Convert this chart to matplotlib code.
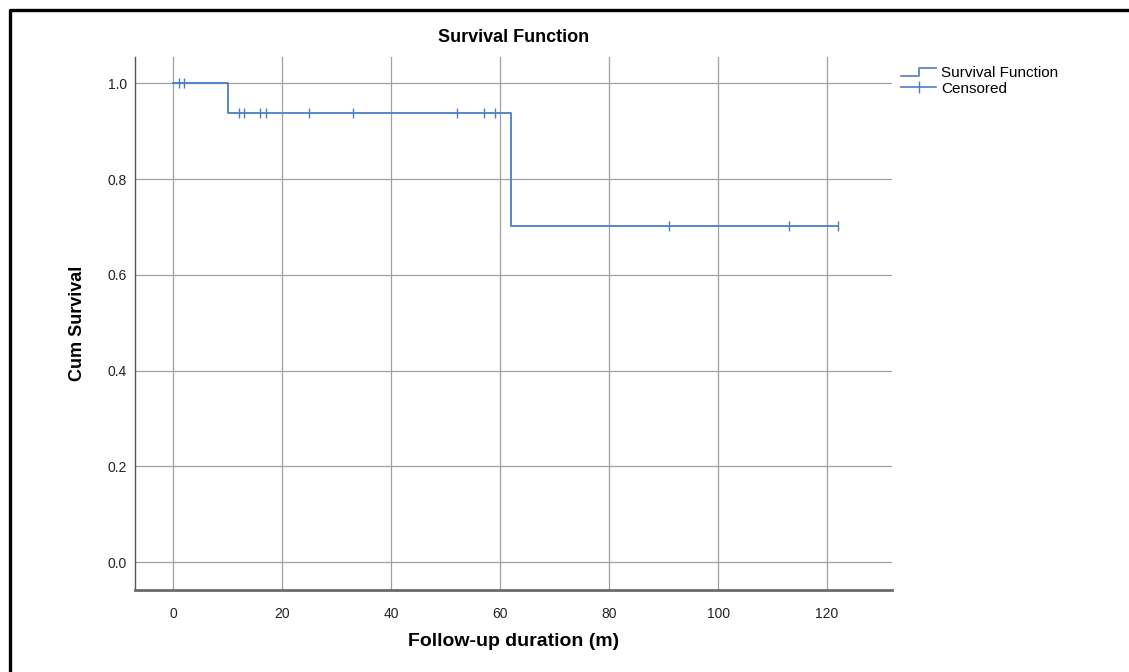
import numpy as np
import matplotlib.pyplot as plt
from matplotlib.legend_handler import HandlerBase
from matplotlib.lines import Line2D

plt.rcParams['font.family'] = ['Liberation Sans', 'DejaVu Sans']

# Kaplan-Meier values
step_times = [0, 10, 62, 122]
step_surv = [1.0, 0.9375, 0.703, 0.703]
censored_times = [1, 2, 12, 13, 16, 17, 25, 33, 52, 57, 59, 91, 113, 122]

x_ticks = [0, 20, 40, 60, 80, 100, 120]
y_ticks = [0.0, 0.2, 0.4, 0.6, 0.8, 1.0]

blue = '#4a7ec4'

# survival level at each censored time
idx = np.searchsorted(step_times, censored_times, side='right') - 1
censored_surv = np.array(step_surv)[idx]


class StepHandler(HandlerBase):
    def create_artists(self, legend, orig_handle, xdescent, ydescent,
                       width, height, fontsize, trans):
        x = np.array([0, 0.5, 0.5, 1.0]) * width - xdescent
        y = np.array([0.15, 0.15, 0.85, 0.85]) * height - ydescent
        ln = Line2D(x, y, color=blue, lw=1.2, transform=trans)
        return [ln]


fig = plt.figure(figsize=(11.29, 6.72), dpi=100)
ax = fig.add_axes([0.1196, 0.122, 0.6704, 0.793])

ax.step(step_times, step_surv, where='post', color=blue, lw=1.3)
ax.plot(censored_times, censored_surv, ls='none', marker='|', ms=7,
        mew=1.0, color=blue)

ax.set_xlim(-7.0, 131.9)
ax.set_ylim(-0.058, 1.055)
ax.set_xticks(x_ticks)
ax.set_yticks(y_ticks)
ax.set_yticklabels([f'{v:.1f}' for v in y_ticks])
ax.grid(True, color='#a0a0a0', lw=0.9)
ax.set_axisbelow(True)
ax.tick_params(axis='x', length=0, pad=12, labelsize=10, colors='#222222')
ax.tick_params(axis='y', length=0, pad=6, labelsize=10, colors='#222222')

for s in ['top', 'right']:
    ax.spines[s].set_visible(False)
ax.spines['left'].set_color('#555555')
ax.spines['left'].set_linewidth(1.0)
ax.spines['bottom'].set_color('#6a6a6a')
ax.spines['bottom'].set_linewidth(2.0)

ax.set_title('Survival Function', fontsize=13, fontweight='bold', pad=11)
ax.set_xlabel('Follow-up duration (m)', fontsize=14, fontweight='bold', labelpad=9)
ax.set_ylabel('Cum Survival', fontsize=13, fontweight='bold', labelpad=15)

h_step = Line2D([], [], color=blue)
h_cens = Line2D([], [], color=blue, marker='|', ms=9, lw=1.2)
ax.legend([h_step, h_cens], ['Survival Function', 'Censored'],
          handler_map={h_step: StepHandler()},
          loc='upper left', bbox_to_anchor=(1.0, 1.0), frameon=False,
          fontsize=11, handlelength=2.3, handletextpad=0.3, labelspacing=0.1,
          borderaxespad=0.2)

# outer frame (top and left edges)
fx = 10 / 1129
fy = 1 - 10 / 672
fig.add_artist(Line2D([fx, fx, 1.0], [0.0, fy, fy], color='black', lw=2.4,
                      transform=fig.transFigure))

fig.savefig('out.png', dpi=100, facecolor='white')
